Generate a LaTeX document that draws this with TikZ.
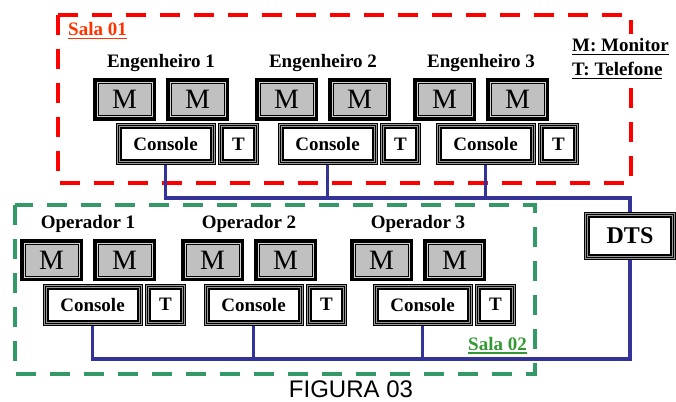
\documentclass[tikz,border=0pt]{standalone}
\usepackage{fontspec}
\setmainfont{Liberation Serif}
\newfontfamily\figfont{Liberation Sans}
\usepackage{tikz}
\usepackage{xcolor}
\usetikzlibrary{calc, backgrounds}
\definecolor{salaRed}{HTML}{FF0000}
\definecolor{salaRedTxt}{HTML}{FF3300}
\definecolor{salaGreen}{HTML}{339966}
\definecolor{salaGreenTxt}{HTML}{339933}
\definecolor{busBlue}{HTML}{333399}
\definecolor{monGray}{HTML}{C0C0C0}
\definecolor{bandGray}{HTML}{9A9A9A}
\newcommand{\sublinha}[1]{\setbox0\hbox{#1}\copy0\llap{\rule[-3.5pt]{\wd0}{1.6pt}}}

\begin{document}
\begin{tikzpicture}[x=1pt,y=-1pt,
  monitor/.style={draw=black,line width=1pt,fill=monGray,minimum width=53pt,minimum height=32pt,inner sep=0pt,
    preaction={draw=black,line width=10pt},preaction={draw=monGray!70!white,line width=3pt},
    font=\fontsize{28}{30}\selectfont},
  console/.style={draw=black,line width=2pt,fill=white,minimum width=90pt,minimum height=32pt,inner sep=0pt,
    preaction={draw=black,line width=10pt},preaction={draw=bandGray,line width=8pt},
    preaction={draw=black,line width=6pt},preaction={draw=bandGray,line width=4pt},
    font=\fontsize{19}{21}\selectfont\bfseries},
  phone/.style={console,minimum width=31pt},
  dtsbox/.style={console,minimum width=82pt,minimum height=38pt,font=\fontsize{24}{26}\selectfont\bfseries},
  rotulo/.style={anchor=base,inner sep=0pt,font=\fontsize{19}{21}\selectfont\bfseries},
  legenda/.style={anchor=base west,inner sep=0pt,font=\fontsize{19}{21}\selectfont\bfseries},
  sala01/.style={salaRed,line width=4pt,dash pattern=on 20pt off 14pt},
  sala02/.style={salaGreen,line width=4pt,dash pattern=on 20pt off 14pt},
  barramento/.style={busBlue,line width=3.5pt}]
\useasboundingbox (0,0) rectangle (676,401);
\newcommand{\posto}[4]{%
  \node[monitor] (#1-m1) at (#2+31.5,#3) {M};
  \node[monitor] (#1-m2) at (#2+104.5,#3) {M};
  \node[console] (#1-con) at (#2+72.5,#3+44.5) {Console};
  \node[phone] (#1-tel) at (#2+145.5,#3+44.5) {T};
  \node[rotulo] (#1-lab) at (#2+68,#3-31.5) {#4};
}
\foreach \b [count=\i] in {93,255,413} {
  \posto{eng\i}{\b}{99.5}{Engenheiro \i}
}
\foreach \b [count=\i] in {20,181,350} {
  \posto{op\i}{\b}{260}{Operador \i}
}
\node[dtsbox] (dts) at (630,236) {DTS};
\node[legenda,fill=white,inner ysep=5pt] (leg-m) at (572,52) {\sublinha{M: Monitor}};
\node[legenda,fill=white,inner ysep=5pt] (leg-t) at (572,76) {\sublinha{T: Telefone}};
\node[legenda,text=salaRedTxt] (sala1) at (68,36) {\sublinha{Sala 01}};
\node[legenda,anchor=base east,text=salaGreenTxt] (sala2) at (527,350) {\sublinha{Sala 02}};
\node[inner sep=0pt,font=\figfont\fontsize{24}{26}\selectfont] (fig) at (351,389) {FIGURA 03};
\coordinate (bus1) at (630,198);
\coordinate (bus2) at (630,359);
\begin{pgfonlayer}{background}
\draw[sala01] (58,15) rectangle (631,183);
\draw[sala02] (15,205) rectangle (535,374);
\draw[barramento] (eng1-con.south) |- (bus1) -- (dts.north);
\draw[barramento] (op1-con.south) |- (bus2) -- (dts.south);
\foreach \i in {2,3} {
  \draw[barramento] (eng\i-con.south) -- (eng\i-con.south |- bus1);
  \draw[barramento] (op\i-con.south) -- (op\i-con.south |- bus2);
}
\end{pgfonlayer}
\end{tikzpicture}
\end{document}
